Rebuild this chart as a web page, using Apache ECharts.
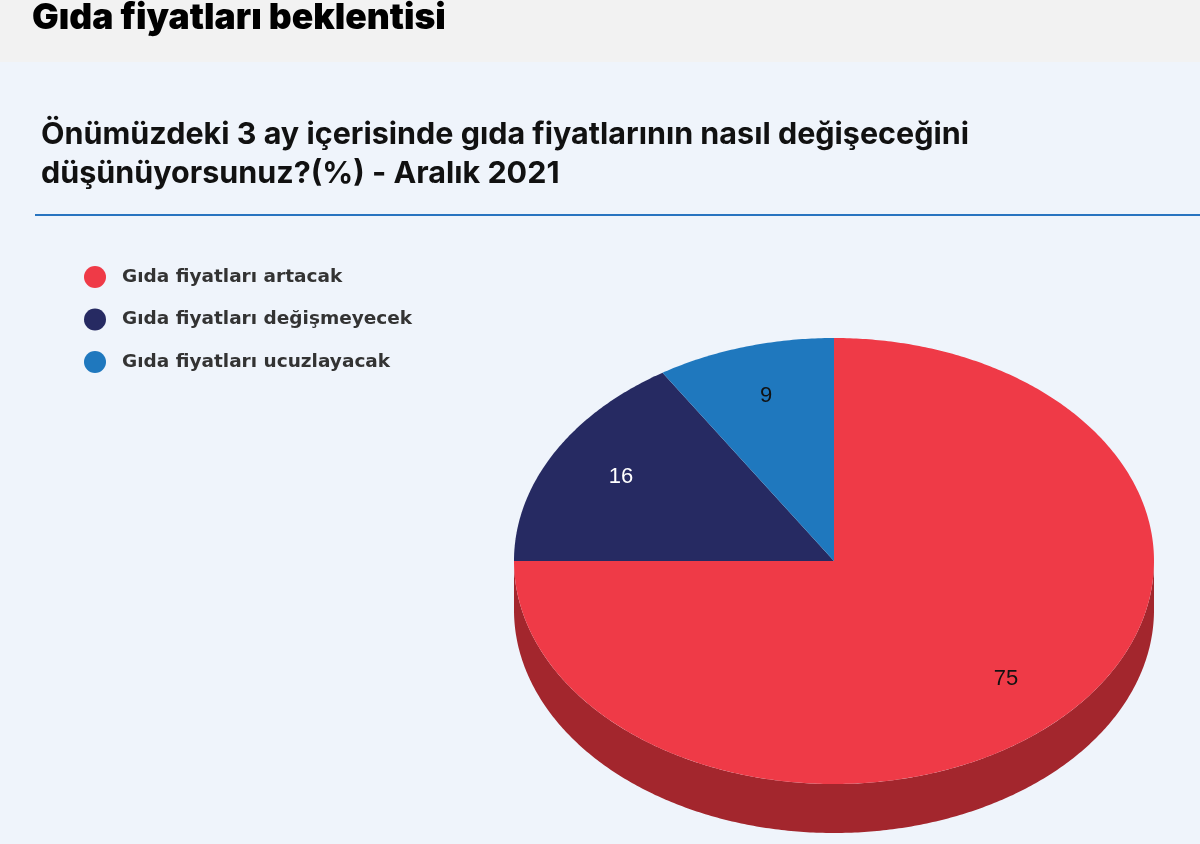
<!DOCTYPE html>
<html><head><meta charset="utf-8">
<script src="https://cdn.jsdelivr.net/npm/echarts@6/dist/echarts.min.js"></script>
<style>html,body{margin:0;padding:0;background:#EFF4FB}#c{width:1200px;height:844px}</style>
</head><body><div id="c"></div>
<script>
const categories = ['Gıda fiyatları artacak', 'Gıda fiyatları değişmeyecek', 'Gıda fiyatları ucuzlayacak'];
const values = [75, 16, 9];
const colors = ['#EF3A47', '#262A62', '#1F78BE'];
const sideColors = ['#A3262D', '#1A1D45', '#165587'];
const labelColors = ['#111111', '#FFFFFF', '#111111'];
const headerTitle = 'Gıda fiyatları beklentisi';
const subTitle = 'Önümüzdeki 3 ay içerisinde gıda fiyatlarının nasıl değişeceğini\ndüşünüyorsunuz?(%) - Aralık 2021';

const chart = echarts.init(document.getElementById('c'));
const PIE = {cx: 834, cy: 561, rx: 320, ry: 223, depth: 49, labelR: 0.76};
const total = values.reduce((a, b) => a + b, 0);

function pt(t, dy) {
  return [PIE.cx + PIE.rx * Math.sin(t), PIE.cy - PIE.ry * Math.cos(t) + (dy || 0)];
}
function arc(a, b, dy) {
  const pts = [];
  const n = Math.max(2, Math.ceil((b - a) / 0.01));
  for (let k = 0; k <= n; k++) pts.push(pt(a + (b - a) * k / n, dy));
  return pts;
}

function makeRender(idx) {
  return function (params, api) {
    const v = api.value(0);
    let before = 0;
    for (let j = 0; j < idx; j++) before += values[j];
    const a = before / total * Math.PI * 2;
    const b = (before + v) / total * Math.PI * 2;
    const children = [];
    const s = Math.max(a, Math.PI / 2), e = Math.min(b, Math.PI * 3 / 2);
    if (s < e) {
      const top = arc(s, e, 0);
      const bot = arc(s, e, PIE.depth).reverse();
      children.push({type: 'polygon', z2: 1, shape: {points: top.concat(bot)},
        style: {fill: sideColors[idx]}});
    }
    children.push({type: 'polygon', z2: 10, shape: {points: [[PIE.cx, PIE.cy]].concat(arc(a, b, 0))},
      style: {fill: colors[idx]}});
    const m = (a + b) / 2;
    children.push({type: 'text', z2: 20, style: {
      x: PIE.cx + PIE.rx * PIE.labelR * Math.sin(m),
      y: PIE.cy - PIE.ry * PIE.labelR * Math.cos(m) - 2,
      text: String(v), fill: labelColors[idx], align: 'center', verticalAlign: 'middle',
      font: '22px "Liberation Sans", Arial, sans-serif'}});
    return {type: 'group', children: children};
  };
}

const series = categories.map((name, i) => ({
  type: 'custom', name: name, coordinateSystem: 'none',
  itemStyle: {color: colors[i]},
  data: [[values[i]]],
  renderItem: makeRender(i),
  silent: true
}));

chart.setOption({
  backgroundColor: '#EFF4FB',
  animation: false,
  graphic: [
    {type: 'rect', left: 0, top: 0, z: -10, shape: {width: 1200, height: 62}, style: {fill: '#F2F2F2'}},
    {type: 'rect', left: 35, top: 214, z: -10, shape: {width: 1165, height: 2}, style: {fill: '#2874C0'}}
  ],
  title: [
    {text: headerTitle, left: 27, top: -5,
      textStyle: {fontFamily: 'Inter', fontWeight: 900, fontSize: 35.5, color: '#000'}},
    {text: subTitle, left: 36, top: 110,
      textStyle: {fontFamily: 'Inter', fontWeight: 'bold', fontSize: 30.5, lineHeight: 39, color: '#111'}}
  ],
  legend: {
    orient: 'vertical', left: 79, top: 261, itemWidth: 22, itemHeight: 22, itemGap: 20.5,
    icon: 'circle', data: categories,
    textStyle: {fontFamily: '"DejaVu Sans"', fontWeight: 'bold', fontSize: 18.5, color: '#333', padding: [0, 0, 0, 11]}
  },
  series: series
});
</script></body></html>
